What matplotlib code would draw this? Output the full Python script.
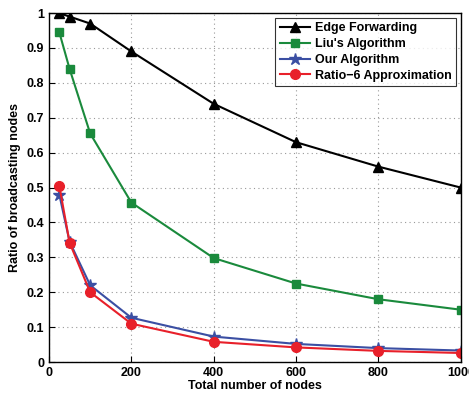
import matplotlib
matplotlib.use("Agg")
import matplotlib.pyplot as plt

nodes = [25, 50, 100, 200, 400, 600, 800, 1000]
edge_forwarding = [1.0, 0.99, 0.97, 0.89, 0.74, 0.63, 0.56, 0.50]
liu_algorithm = [0.945, 0.84, 0.655, 0.457, 0.298, 0.225, 0.18, 0.15]
our_algorithm = [0.48, 0.345, 0.22, 0.127, 0.073, 0.052, 0.04, 0.033]
ratio6 = [0.505, 0.342, 0.20, 0.11, 0.058, 0.042, 0.032, 0.026]

plt.rcParams['font.family'] = ['Liberation Sans', 'DejaVu Sans']
plt.rcParams['font.weight'] = 'bold'

fig = plt.figure(figsize=(4.69, 3.97), dpi=100)
ax = fig.add_axes([0.1045, 0.088, 0.878, 0.879])

ax.plot(nodes, edge_forwarding, color='black', marker='^', markersize=7, lw=1.5, label='Edge Forwarding')
ax.plot(nodes, liu_algorithm, color='#1a8a3c', marker='s', markersize=6, lw=1.5, label="Liu's Algorithm")
ax.plot(nodes, our_algorithm, color='#3b4fa3', marker='*', markersize=9, lw=1.5, label='Our Algorithm')
ax.plot(nodes, ratio6, color='#e8202a', marker='o', markersize=7, lw=1.5, label='Ratio\u22126 Approximation')

ax.set_xlim(0, 1000)
ax.set_ylim(0, 1)
ax.set_xticks([0, 200, 400, 600, 800, 1000])
ax.set_yticks([0, 0.1, 0.2, 0.3, 0.4, 0.5, 0.6, 0.7, 0.8, 0.9, 1])
ax.set_yticklabels(['0', '0.1', '0.2', '0.3', '0.4', '0.5', '0.6', '0.7', '0.8', '0.9', '1'])
ax.tick_params(direction='in', labelsize=9, length=4)
for lab in ax.get_xticklabels() + ax.get_yticklabels():
    lab.set_fontweight('bold')
ax.grid(True, linestyle=(0, (1, 3)), color='#999999', lw=0.8)
for s in ax.spines.values():
    s.set_linewidth(1.0)

ax.set_xlabel('Total number of nodes', fontsize=9, fontweight='bold', labelpad=1)
ax.set_ylabel('Ratio of broadcasting nodes', fontsize=9, fontweight='bold', labelpad=4)

leg = ax.legend(loc='upper right', fontsize=9, frameon=True, fancybox=False,
                edgecolor='black', borderaxespad=0.4, handlelength=2.4,
                handletextpad=0.4, borderpad=0.35, labelspacing=0.3)
leg.get_frame().set_linewidth(0.8)
for t in leg.get_texts():
    t.set_fontweight('bold')

fig.savefig('out.png', dpi=100)
